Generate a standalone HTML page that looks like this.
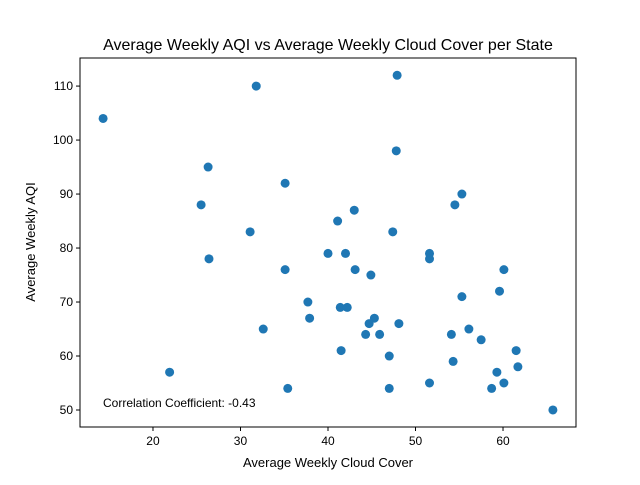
<!DOCTYPE html>
<html><head><meta charset="utf-8"><style>
body{margin:0;background:#fff;font-family:"Liberation Sans",sans-serif;}
svg text{font-family:"Liberation Sans",sans-serif;fill:#000;}
</style></head><body>
<svg id="chart" width="640" height="480" xmlns="http://www.w3.org/2000/svg">
<rect width="640" height="480" fill="#fff"/>
<text x="328" y="50" font-size="16" text-anchor="middle">Average Weekly AQI vs Average Weekly Cloud Cover per State</text>
<g id="marks"></g>
<g id="axes"></g>
<rect x="80" y="58" width="496" height="369" fill="none" stroke="#000" stroke-width="1"/>
<text x="328" y="467" font-size="13" text-anchor="middle">Average Weekly Cloud Cover</text>
<text transform="translate(35,242) rotate(-90)" font-size="13" text-anchor="middle">Average Weekly AQI</text>
<text x="103" y="407" font-size="12">Correlation Coefficient: -0.43</text>
</svg>
<script>
const cloudCover=[14.3,31.8,47.9,47.8,26.3,35.1,55.3,25.5,54.5,43.0,41.1,31.1,47.4,40.0,42.0,51.6,26.4,51.6,35.1,43.1,60.1,44.9,59.6,55.3,37.7,41.4,42.2,37.9,45.3,32.6,48.1,44.7,56.1,44.3,45.9,54.1,57.5,41.5,61.5,47.0,54.3,61.7,21.9,59.3,51.6,60.1,35.4,47.0,58.7,65.7];
const aqi=[104,110,112,98,95,92,90,88,88,87,85,83,83,79,79,79,78,78,76,76,76,75,72,71,70,69,69,67,67,65,66,66,65,64,64,64,63,61,61,60,59,58,57,57,55,55,54,54,54,50];
const xTicks=[20,30,40,50,60];
const yTicks=[50,60,70,80,90,100,110];
const NS="http://www.w3.org/2000/svg";
const L=80,R=576,T=58,B=427,xMin=11.66,xMax=68.34,yMin=46.85,yMax=115.2;
function xs(v){return L+(v-xMin)/(xMax-xMin)*(R-L);}
function ys(v){return B-(v-yMin)/(yMax-yMin)*(B-T);}
const marks=document.getElementById('marks'),axes=document.getElementById('axes');
for(let i=0;i<cloudCover.length;i++){
 const c=document.createElementNS(NS,'circle');
 c.setAttribute('cx',xs(cloudCover[i]));c.setAttribute('cy',ys(aqi[i]));c.setAttribute('r',4.5);c.setAttribute('fill','#1f77b4');
 
 
 marks.appendChild(c);
}
xTicks.forEach(t=>{
 const x=xs(t);
 const l=document.createElementNS(NS,'line');
 l.setAttribute('x1',x);l.setAttribute('x2',x);l.setAttribute('y1',B);l.setAttribute('y2',B+4);l.setAttribute('stroke','#000');
 
 
 axes.appendChild(l);
 const tx=document.createElementNS(NS,'text');
 tx.setAttribute('x',x);tx.setAttribute('y',B+18);tx.setAttribute('font-size','12');tx.setAttribute('text-anchor','middle');tx.textContent=t;
 
 
 axes.appendChild(tx);
});
yTicks.forEach(t=>{
 const y=ys(t);
 const l=document.createElementNS(NS,'line');
 l.setAttribute('x1',L-4);l.setAttribute('x2',L);l.setAttribute('y1',y);l.setAttribute('y2',y);l.setAttribute('stroke','#000');
 
 
 axes.appendChild(l);
 const tx=document.createElementNS(NS,'text');
 tx.setAttribute('x',L-7);tx.setAttribute('y',y+4);tx.setAttribute('font-size','12');tx.setAttribute('text-anchor','end');tx.textContent=t;
 
 
 axes.appendChild(tx);
});
</script>
</body></html>
